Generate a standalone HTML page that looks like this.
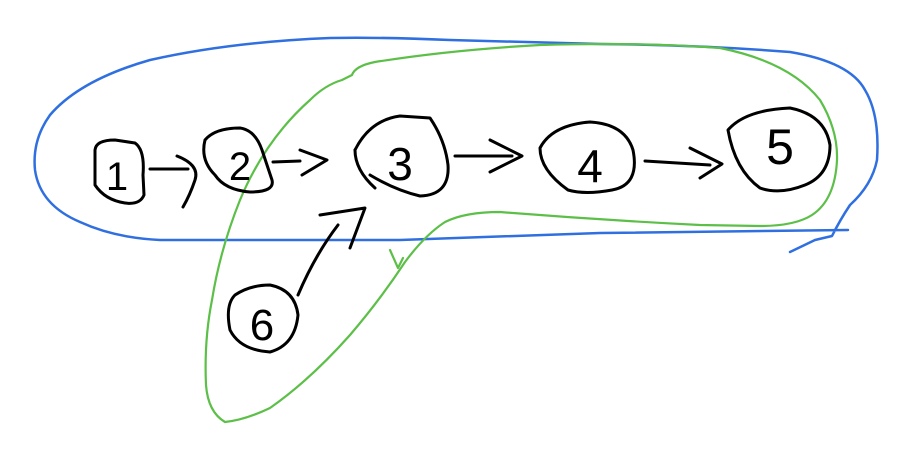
<!DOCTYPE html>
<html><head><style>html,body{margin:0;padding:0;background:#fff}svg{display:block}</style></head>
<body>
<svg width="919" height="470" viewBox="0 0 919 470" xmlns="http://www.w3.org/2000/svg">
<g fill="none" stroke-linecap="round" stroke-linejoin="round">
<!-- blue loop -->
<path d="M790,252 L815,240 L832,236 Q840,220 850,205 Q872,185 877,160 Q880,115 865,90 Q850,62 790,52 Q700,45 600,44 L450,40 Q380,37 330,38 Q230,42 150,60 Q80,80 50,115 Q32,140 35,170 Q40,205 80,222 Q115,238 160,240 L400,240 L600,233 L848,230" stroke="#2f6fe0" stroke-width="2.5"/>
<!-- green loop -->
<path d="M342,80 L352,75 Q355,66 375,62 Q450,50 540,45 Q640,42 720,48 Q790,62 820,100 Q838,130 837,160 Q835,200 812,215 Q795,226 760,226 L700,225 Q600,220 500,212 Q465,212 445,222 Q425,235 405,262 Q380,300 350,335 Q310,380 270,408 Q245,420 225,422 Q208,412 206,385 Q204,340 212,300 Q220,250 240,200 Q265,140 310,100 Q325,85 342,80" stroke="#5cbf48" stroke-width="2.2"/>
<path d="M390,250 L398,268 L403,258" stroke="#5cbf48" stroke-width="2.2"/>
<!-- nodes -->
<g stroke="#000" stroke-width="3">
<path d="M95,150 Q96,140 115,140 L135,143 Q145,150 143,175 L144,195 Q140,205 125,203 Q105,200 95,185 Z"/>
<path d="M205,140 Q215,128 240,128 Q255,130 262,150 L272,180 Q275,192 250,192 Q225,190 215,175 Q200,160 205,140 Z"/>
<path d="M355,150 Q370,120 400,116 L430,118 Q445,140 448,165 Q450,195 420,196 Q395,190 370,175"/>
<path d="M355,150 Q355,170 375,188"/>
<path d="M540,148 Q552,125 590,122 Q625,124 633,150 Q640,185 612,190 Q585,195 568,190 Q540,170 540,148 Z"/>
<path d="M728,130 Q745,110 790,108 Q825,115 830,145 Q830,175 805,185 Q780,195 760,188 Q735,170 728,130 Z"/>
<path d="M235,295 Q250,285 270,285 Q295,290 298,315 Q295,345 270,352 Q240,350 230,330 Q225,305 235,295 Z"/>
<!-- arrows -->
<path d="M150,169 L188,169"/><path d="M177,156 Q200,165 195,180 Q190,195 183,207"/>
<path d="M273,162 L300,161"/><path d="M300,150 L327,160 L302,175"/>
<path d="M455,156 L512,156"/><path d="M490,140 L522,156 L490,172"/>
<path d="M645,161 L710,165"/><path d="M690,148 L722,164 L700,178"/>
<path d="M298,295 Q315,255 338,225"/><path d="M320,215 L365,208 L350,248"/>
</g>
<!-- digits -->
<g font-family="Liberation Sans, sans-serif" font-size="44" fill="#000" text-anchor="middle">
<text x="117" y="190" font-size="40">1</text>
<text x="240" y="180" font-size="40">2</text>
<text x="400" y="180" font-size="46">3</text>
<text x="590" y="182" font-size="46">4</text>
<text x="780" y="164" font-size="50">5</text>
<text x="262" y="340" font-size="44">6</text>
</g>
</g>
</svg>
</body></html>
